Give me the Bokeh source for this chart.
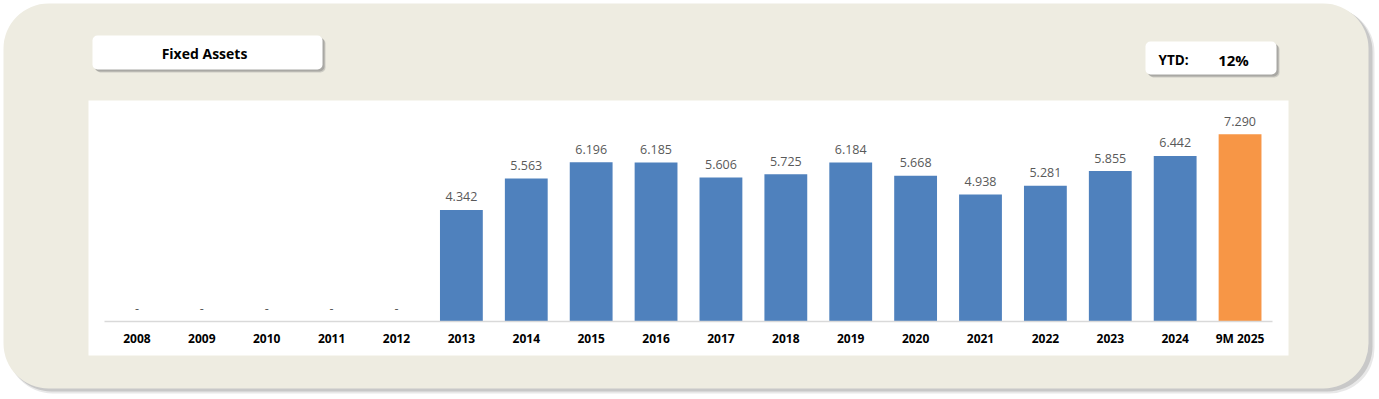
from bokeh.plotting import figure
from bokeh.models import FactorRange, Range1d, ColumnDataSource
from bokeh.core.properties import value
from bokeh.embed import file_html
from bokeh.resources import INLINE

# ---- data ----
categories = ["2008", "2009", "2010", "2011", "2012", "2013", "2014", "2015", "2016",
              "2017", "2018", "2019", "2020", "2021", "2022", "2023", "2024", "9M 2025"]
fixed_assets = [0, 0, 0, 0, 0, 4.342, 5.563, 6.196, 6.185, 5.606, 5.725, 6.184,
                5.668, 4.938, 5.281, 5.855, 6.442, 7.290]
title_text = "Fixed Assets"
ytd_label = "YTD:"
ytd_value = "12%"

BLUE = "#4F81BD"
ORANGE = "#F79646"
bar_colors = [ORANGE if c.startswith("9M") else BLUE for c in categories]
labels = ["-" if v == 0 else f"{v:.3f}" for v in fixed_assets]

# ---- layout helpers (page pixels -> data coords) ----
OX, OY = 0, 0          # canvas origin on the page
W, H = 1376, 397
CAT_L, CAT_R = 104, 1272
UNIT = (CAT_R - CAT_L) / len(categories)
PAD = (CAT_L - OX) / UNIT          # padding on each side, in category units
X_START = -PAD
def X(px):
    return X_START + (px - OX) / UNIT
S = 25.7
Y0 = 321
def Y(py):
    return (Y0 - py) / S

p = figure(x_range=FactorRange(factors=categories, range_padding=PAD, range_padding_units="absolute"),
           y_range=Range1d(Y(OY + H), Y(OY)), width=W, height=H,
           output_backend="svg", toolbar_location=None, min_border=0,
           y_axis_location=None)
p.grid.visible = False
p.outline_line_color = None
p.background_fill_color = "white"
p.border_fill_color = "white"

def rbox(l, t, r, b, color, radius, alpha=1.0):
    p.quad(left=X(l), right=X(r), top=Y(t), bottom=Y(b), fill_color=color,
           fill_alpha=alpha, line_color=None, border_radius=radius)

# outer panel with shadow
rbox(7, 7, 1374, 393, "#7F7F7F", 45, 0.18)
rbox(6, 6, 1372, 391, "#7F7F7F", 45, 0.30)
rbox(3, 3, 1368, 388, "#EEECE1", 45)
# white chart area
rbox(88, 100, 1288, 355, "white", 0)
# title box
rbox(95, 38, 325, 72, "#7F7F7F", 5, 0.30)
rbox(94, 37, 324, 71, "#7F7F7F", 5, 0.45)
rbox(92, 35, 322, 69, "white", 5)
# ytd box
rbox(1148, 44, 1279, 77, "#7F7F7F", 5, 0.30)
rbox(1147, 43, 1278, 76, "#7F7F7F", 5, 0.45)
rbox(1145, 41, 1276, 74, "white", 5)

p.text(x=[X(204)], y=[Y(53)], text=[title_text], text_font=value("Open Sans"),
       text_font_size="14px", text_font_style="bold", text_color="#000000",
       text_align="center", text_baseline="middle")
p.text(x=[X(1173)], y=[Y(59)], text=[ytd_label], text_font=value("Open Sans"),
       text_font_size="13.5px", text_font_style="bold", text_color="#000000",
       text_align="center", text_baseline="middle")
p.text(x=[X(1233)], y=[Y(59)], text=[ytd_value], text_font=value("Open Sans"),
       text_font_size="15px", text_font_style="bold", text_color="#000000",
       text_align="center", text_baseline="middle")

# ---- bars ----
src = ColumnDataSource(dict(cat=categories, val=fixed_assets, color=bar_colors, lab=labels))
p.vbar(x="cat", top="val", bottom=0, width=0.66, fill_color="color", line_color=None, source=src)
p.text(x="cat", y="val", text="lab", source=src, text_font=value("Open Sans"),
       text_font_size="12.5px", text_color="#595959", text_align="center",
       text_baseline="middle", y_offset=-13)

# baseline
p.segment(x0=[0], x1=[len(categories)], y0=[0], y1=[0], line_color="#D9D9D9", line_width=1.5)

ax = p.xaxis[0]
ax.fixed_location = 0
ax.axis_line_color = None
ax.major_tick_line_color = None
ax.minor_tick_line_color = None
ax.major_tick_out = 0
ax.major_tick_in = 0
ax.major_label_standoff = 8
ax.major_label_text_font = "Open Sans"
ax.major_label_text_font_size = "12px"
ax.major_label_text_font_style = "bold"
ax.major_label_text_color = "#000000"

open("out.html", "w").write(file_html(p, INLINE))
